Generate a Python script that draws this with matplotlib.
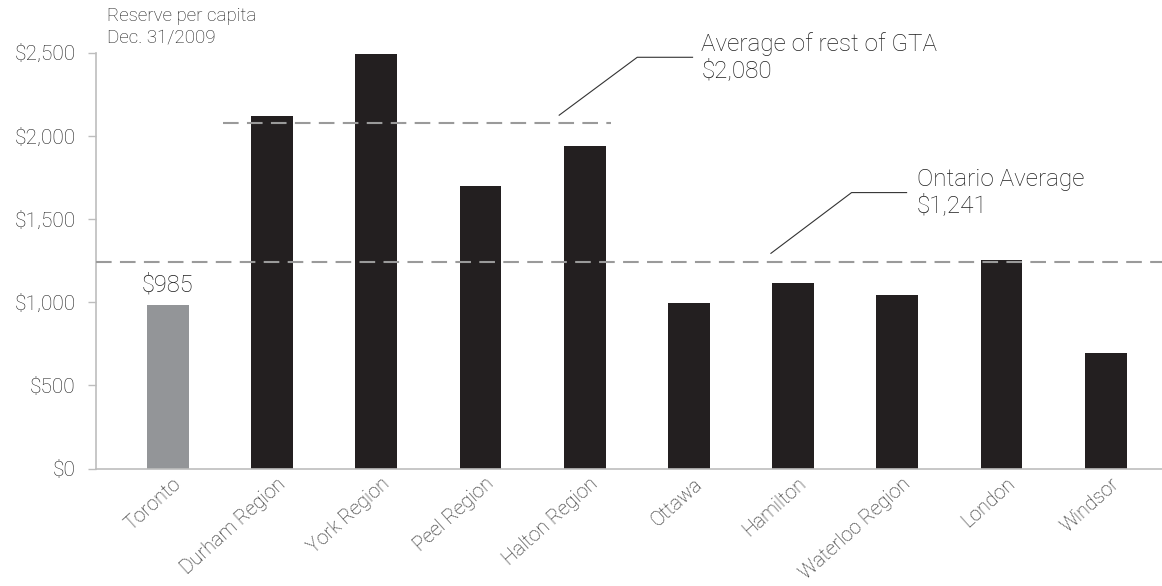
import matplotlib.pyplot as plt
import matplotlib.transforms as mtransforms
import numpy as np

# reserve per capita by municipality, Dec. 31/2009
cities = ["Toronto", "Durham Region", "York Region", "Peel Region", "Halton Region",
          "Ottawa", "Hamilton", "Waterloo Region", "London", "Windsor"]
reserves = [985, 2120, 2490, 1700, 1940, 995, 1115, 1045, 1255, 695]
gta_avg = 2080
ontario_avg = 1241
y_ticks = [0, 500, 1000, 1500, 2000, 2500]
y_tick_labels = ["$0", "$500", "$1,000", "$1,500", "$2,000", "$2,500"]

plt.rcParams['font.family'] = ['Roboto', 'DejaVu Sans']
plt.rcParams['font.weight'] = 'light'
txt = '#1e1e1e'
axis_gray = '#bdbdbd'

fig = plt.figure(figsize=(11.62, 5.86), dpi=100)
ax = fig.add_axes([0.0826, 0.2002, 0.9174, 0.710])

x = np.arange(len(cities))
colors = ['#939598'] + ['#231f20'] * (len(cities) - 1)
ax.bar(x, reserves, width=0.40, color=colors, zorder=2)

ax.set_xlim(-0.69, 9.54)
ax.set_ylim(0, 2500)

ax.set_yticks(y_ticks)
ax.set_yticklabels(y_tick_labels, fontsize=15, color=txt)
ax.tick_params(axis='y', length=5.5, width=1, color=axis_gray, pad=9)
ax.set_xticks(x)
ax.set_xticklabels(cities, rotation=42, ha='right', va='top',
                   rotation_mode='anchor', fontsize=14.2, color=txt)
ax.tick_params(axis='x', length=0, pad=4)
shift = mtransforms.ScaledTranslation(3 / 72, 0, fig.dpi_scale_trans)
for lab in ax.get_xticklabels():
    lab.set_transform(lab.get_transform() + shift)

for side in ['top', 'right']:
    ax.spines[side].set_visible(False)
for side in ['left', 'bottom']:
    ax.spines[side].set_color(axis_gray)
    ax.spines[side].set_linewidth(1.2)

# Toronto value label
ax.annotate(f"${reserves[0]:,}", (x[0], reserves[0]), xytext=(0, 6),
            textcoords='offset points', ha='center', va='bottom',
            fontsize=17, color=txt)

# average lines
dash = (0, (7.5, 4))
ax.plot([0.525, 4.25], [gta_avg, gta_avg], color='#9a9a9a', lw=1.5,
        linestyle=dash, zorder=3)
ax.plot([-0.69, 9.54], [ontario_avg, ontario_avg], color='#9a9a9a', lw=1.5,
        linestyle=dash, zorder=3, clip_on=False)

# leader lines and callouts
ax.plot([3.755, 4.504, 5.035], [2124, 2472, 2472], color='#333333', lw=0.8,
        clip_on=False)
ax.text(5.12, 2472, f"Average of rest of GTA\n${gta_avg:,}", fontsize=17.5,
        color=txt, va='center', ha='left', linespacing=1.15)

ax.plot([5.787, 6.561, 7.089], [1294, 1659, 1659], color='#333333', lw=0.8,
        clip_on=False)
ax.text(7.185, 1659, f"Ontario Average\n${ontario_avg:,}", fontsize=17.5,
        color=txt, va='center', ha='left', linespacing=1.15)

fig.text(106.7 / 1162, 1 - 7 / 586, "Reserve per capita\nDec. 31/2009",
         fontsize=13.5, color=txt, va='top', ha='left', linespacing=1.25)

fig.savefig("out.png", dpi=100)
